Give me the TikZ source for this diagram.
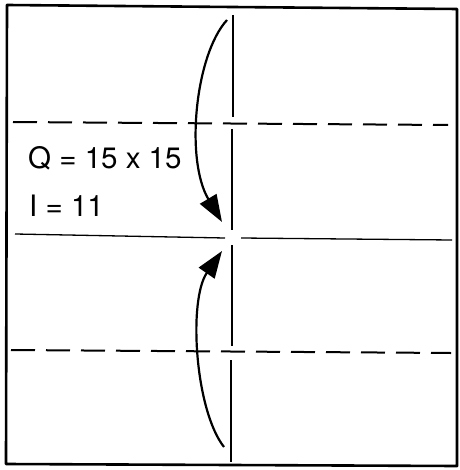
\documentclass[tikz,border=0pt]{standalone}
\usepackage{fontspec}
\setmainfont{TeX Gyre Heros}
\usetikzlibrary{arrows.meta}
\tikzset{
  frame/.style={line width=2.6pt, line join=round},
  fold/.style={line width=1.3pt},
  valley/.style={line width=2pt, dash pattern=on 24pt off 11pt},
  foldarrow/.style={line width=2.2pt, -{Triangle[length=27pt,width=19pt]}},
  label/.style={anchor=base west, inner sep=0pt, font=\fontsize{29.5}{34}\selectfont}
}
\begin{document}
\begin{tikzpicture}[x=1pt,y=-1pt]
\useasboundingbox (0,0) rectangle (459,470);
% frame
\draw[frame] (7,5) -- (457,9) -- (457,466) -- (6,464) -- cycle;
% vertical crease (with gaps)
\coordinate (v1) at (233,15);
\coordinate (v2) at (233,117);
\coordinate (v3) at (232,129);
\coordinate (v4) at (232,230);
\coordinate (v5) at (232,245);
\coordinate (v6) at (232,346);
\coordinate (v7) at (231,360);
\coordinate (v8) at (231,462);
\draw[fold] (v1) -- (v2);
\draw[fold] (v3) -- (v4);
\draw[fold] (v5) -- (v6);
\draw[fold] (v7) -- (v8);
% middle horizontal crease
\coordinate (h1) at (15,234);
\coordinate (h2) at (225,238);
\coordinate (h3) at (241,238);
\coordinate (h4) at (452,240);
\draw[fold] (h1) -- (h2);
\draw[fold] (h3) -- (h4);
% dashed lines
\coordinate (d1) at (13,122);
\coordinate (d2) at (448,125);
\coordinate (d3) at (11,350);
\coordinate (d4) at (451,353);
\draw[valley] (d1) -- (d2);
\draw[valley] (d3) -- (d4);
% arrows
\coordinate (a1) at (227,20);
\coordinate (a2) at (222,222);
\coordinate (b1) at (224,447);
\coordinate (b2) at (222,251);
\draw[foldarrow] (a1) .. controls (195,55) and (185,160) .. (a2);
\draw[foldarrow] (b1) .. controls (195,410) and (188,300) .. (b2);
% texts
\node[label] (q) at (28,168) {Q = 15 x 15};
\node[label] (l) at (29,216) {I = 11};
\end{tikzpicture}
\end{document}
